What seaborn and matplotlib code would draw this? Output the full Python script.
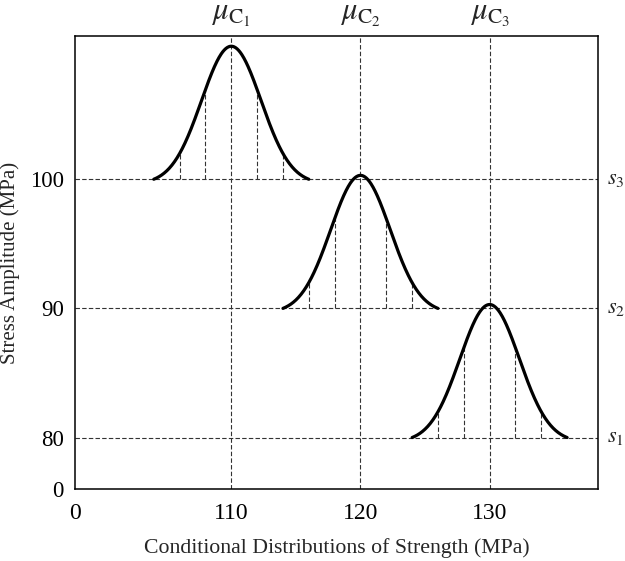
import numpy as np
import pandas as pd
import seaborn as sns
import matplotlib.pyplot as plt

# schematic values
strength_means = [110, 120, 130]          # mu_C1, mu_C2, mu_C3
stress_levels = [100, 90, 80]             # s3, s2, s1
mean_labels = [r'$\mu_{\mathrm{C}_1}$', r'$\mu_{\mathrm{C}_2}$', r'$\mu_{\mathrm{C}_3}$']
stress_labels = [r'$s_3$', r'$s_2$', r'$s_1$']
sigma = 2.3
peak_height = 10.3
half_width = 6
slice_offsets = [-4, -2, 2, 4]

x_lim = (97.9, 138.4)
y_lim = (76.0, 111.1)
x_ticks = [x_lim[0], 110, 120, 130]
x_ticklabels = ['0', '110', '120', '130']
y_ticks = [y_lim[0], 80, 90, 100]
y_ticklabels = ['0', '80', '90', '100']


def bell(dx):
    c = np.exp(-half_width**2 / (2 * sigma**2))
    return peak_height * (np.exp(-dx**2 / (2 * sigma**2)) - c) / (1 - c)


sns.set_style("white")
plt.rcParams['font.family'] = ['Liberation Serif', 'DejaVu Serif']
plt.rcParams['mathtext.fontset'] = 'stix'

fig = plt.figure(figsize=(6.25, 5.61), dpi=100)
ax = fig.add_axes([0.12, 0.128, 0.837, 0.808])

dash_kw = dict(color='#333333', lw=0.8, ls=(0, (4, 2)), zorder=1)
for s in stress_levels:
    ax.axhline(s, **dash_kw)
for m in strength_means:
    ax.axvline(m, **dash_kw)

rows = []
for m, s in zip(strength_means, stress_levels):
    dx = np.linspace(-half_width, half_width, 300)
    rows.append(pd.DataFrame({'x': m + dx, 'y': s + bell(dx), 'level': s}))
    for off in slice_offsets:
        ax.vlines(m + off, s, s + bell(off), **dash_kw)
curves = pd.concat(rows)

sns.lineplot(data=curves, x='x', y='y', units='level', estimator=None,
             color='black', lw=2.3, ax=ax, zorder=3, sort=False)

for m, lab in zip(strength_means, mean_labels):
    ax.text(m, y_lim[1] + 0.55, lab, ha='center', va='bottom', fontsize=22)
for s, lab in zip(stress_levels, stress_labels):
    ax.text(x_lim[1] + 0.65, s, lab, ha='left', va='center', fontsize=16)

ax.set_xlim(*x_lim)
ax.set_ylim(*y_lim)
ax.set_xticks(x_ticks)
ax.set_xticklabels(x_ticklabels)
ax.set_yticks(y_ticks)
ax.set_yticklabels(y_ticklabels)
ax.tick_params(length=0, labelsize=17, colors='black')
ax.tick_params(axis='x', pad=10)
ax.tick_params(axis='y', pad=8, labelsize=16.5)
ax.set_xlabel('Conditional Distributions of Strength (MPa)', fontsize=15.7, labelpad=10)
ax.set_ylabel('Stress Amplitude (MPa)', fontsize=15, labelpad=7)
for sp in ax.spines.values():
    sp.set_color('black')
    sp.set_linewidth(1.1)

fig.savefig('out.png', dpi=100)
